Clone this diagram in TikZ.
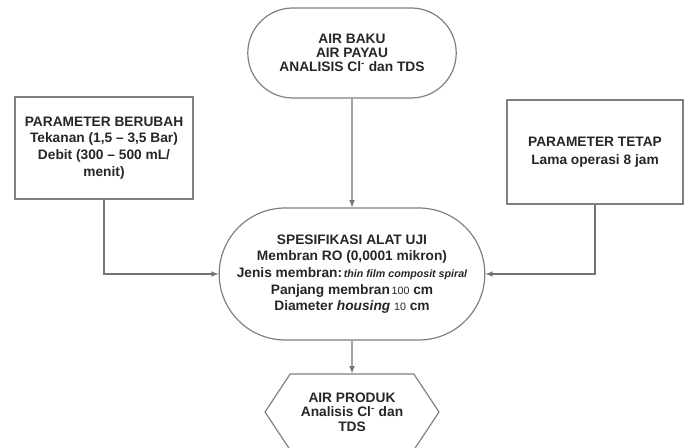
\documentclass[tikz,border=0pt]{standalone}
\usepackage{fontspec}
\setmainfont{Liberation Sans}
\usetikzlibrary{shapes,arrows,positioning,calc}

\begin{document}
\begin{tikzpicture}[x=0.75pt, y=-0.75pt,
            every node/.style={font=\bfseries\fontsize{10.3}{12.5}\selectfont, text=black!85, align=center},
            box/.style={draw=black!50, line width=0.9pt},
            link/.style={draw=black!55, line width=0.9pt, -latex}]
            \useasboundingbox (0,0) rectangle (688,448);
            \node[box, rounded rectangle, minimum width=163pt, minimum height=67.5pt, font=\bfseries\fontsize{10.3}{10.5}\selectfont] (baku) at (352,53) {AIR BAKU\\AIR PAYAU\\ANALISIS Cl\textsuperscript{-} dan TDS};
            \node[box, minimum width=133.5pt, minimum height=76.5pt] (berubah) at (104,148) {PARAMETER BERUBAH\\Tekanan (1,5 -- 3,5 Bar)\\Debit (300 -- 500 mL/\\menit)};
            \node[box, minimum width=132pt, minimum height=78pt, font=\bfseries\fontsize{10.3}{13.5}\selectfont] (tetap) at (595,152) {PARAMETER TETAP\\Lama operasi 8 jam};
            \node[box, rounded rectangle, minimum width=193pt, minimum height=99pt] (alat) at (352,274) {SPESIFIKASI ALAT UJI\\Membran RO (0,0001 mikron)\\Jenis membran:{\fontsize{8}{8}\selectfont\itshape\,thin film composit spiral}\\Panjang membran{\mdseries\fontsize{8}{8}\selectfont\,100} cm\\Diameter \textit{housing} {\mdseries\fontsize{8}{8}\selectfont 10} cm};
            \node[box, signal, signal to=west and east, signal pointer angle=113, minimum width=130.5pt, minimum height=57pt, font=\bfseries\fontsize{10.3}{11}\selectfont] (produk) at (352,412) {AIR PRODUK\\Analisis Cl\textsuperscript{-} dan\\TDS};
            \draw[link] (baku) -- (alat);
            \draw[link] (berubah.south) |- (alat.west);
            \draw[link] (tetap.south) |- (alat.east);
            \draw[link] (alat) -- (produk);
        \end{tikzpicture}
\end{document}
